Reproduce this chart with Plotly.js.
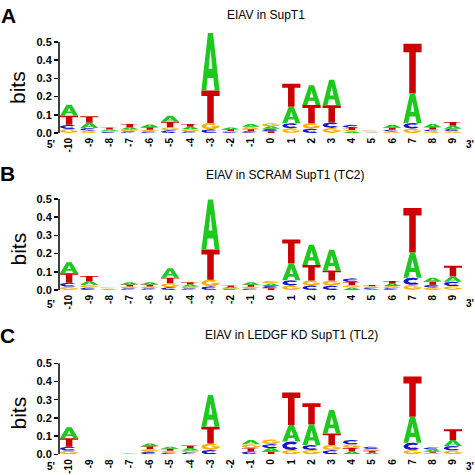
<!DOCTYPE html>
<html>
<head>
<meta charset="utf-8">
<script src="https://cdn.plot.ly/plotly-3.0.1.min.js"></script>
<style>html,body{margin:0;padding:0;background:#fff;}#chart{width:475px;height:475px;}</style>
</head>
<body>
<div id="chart"></div>
<script>
// ---------- DATA ----------
const positions = [-10,-9,-8,-7,-6,-5,-4,-3,-2,-1,0,1,2,3,4,5,6,7,8,9];
const tickLabels = positions.map(String);
const yTickVals = [0,0.1,0.2,0.3,0.4,0.5];
const yTickText = ['0.0','0.1','0.2','0.3','0.4','0.5'];
const panelTitles = ['EIAV in SupT1','EIAV in SCRAM SupT1 (TC2)','EIAV in LEDGF KD SupT1 (TL2)'];
const panelLetters = ['A','B','C'];

// Panel A: EIAV in SupT1 (bits per letter)
const supA = [0.060,0.028,0.008,0.014,0.016,0.033,0.014,0.317,0.010,0.016,0.014,0.090,0.108,0.139,0.008,0.002,0.016,0.162,0.018,0.017];
const supC = [0.023,0.015,0.006,0.009,0.008,0.015,0.009,0.020,0.005,0.010,0.013,0.028,0.024,0.030,0.017,0.003,0.010,0.030,0.010,0.012];
const supG = [0.022,0.013,0.006,0.010,0.010,0.017,0.011,0.035,0.006,0.013,0.017,0.026,0.030,0.028,0.009,0.003,0.008,0.025,0.009,0.011];
const supT = [0.050,0.036,0.010,0.017,0.013,0.030,0.016,0.178,0.009,0.011,0.010,0.126,0.100,0.095,0.011,0.004,0.011,0.274,0.013,0.020];

// Panel B: EIAV in SCRAM SupT1 (TC2)
const scrA = [0.061,0.022,0.003,0.012,0.012,0.052,0.011,0.275,0.007,0.014,0.013,0.092,0.111,0.114,0.013,0.006,0.013,0.138,0.020,0.028];
const scrC = [0.022,0.013,0.002,0.009,0.009,0.015,0.009,0.020,0.004,0.008,0.012,0.028,0.025,0.024,0.020,0.007,0.010,0.040,0.015,0.025];
const scrG = [0.018,0.015,0.003,0.010,0.010,0.022,0.010,0.037,0.006,0.010,0.015,0.025,0.027,0.028,0.015,0.007,0.012,0.028,0.014,0.021];
const scrT = [0.052,0.027,0.004,0.011,0.011,0.031,0.012,0.166,0.008,0.011,0.010,0.133,0.086,0.055,0.016,0.008,0.014,0.245,0.018,0.059];

// Panel C: EIAV in LEDGF KD SupT1 (TL2)
const kdA = [0.060,0.001,0.001,0.003,0.016,0.012,0.013,0.174,0.0005,0.024,0.018,0.091,0.113,0.129,0.016,0.009,0.0005,0.143,0.010,0.033];
const kdC = [0.022,0.001,0.001,0.002,0.014,0.009,0.010,0.024,0.0005,0.016,0.022,0.046,0.027,0.023,0.025,0.012,0.0005,0.040,0.012,0.025];
const kdG = [0.020,0.001,0.001,0.002,0.015,0.010,0.011,0.036,0.0005,0.022,0.026,0.024,0.024,0.028,0.020,0.011,0.0005,0.024,0.008,0.021];
const kdT = [0.046,0.002,0.002,0.003,0.015,0.011,0.014,0.092,0.0005,0.017,0.016,0.178,0.116,0.064,0.018,0.010,0.0005,0.220,0.008,0.058];

const panels = [
  {A: supA, C: supC, G: supG, T: supT},
  {A: scrA, C: scrC, G: scrG, T: scrT},
  {A: kdA, C: kdC, G: kdG, T: kdT}
];

// ---------- STYLE ----------
const colors = {A: '#1ec81e', C: '#1414cc', G: '#ffb000', T: '#cc0000'};
const letterWidth = 0.9;

// ---------- GLYPHS (unit box) ----------
function arc(rx, ry, a0, a1, n) {
  const pts = [];
  for (let i = 0; i <= n; i++) {
    const a = (a0 + (a1 - a0) * i / n) * Math.PI / 180;
    pts.push([0.5 + rx * Math.cos(a), 0.5 + ry * Math.sin(a)]);
  }
  return pts;
}
const glyphs = {
  T: [[0,1],[1,1],[1,0.83],[0.68,0.83],[0.68,0],[0.32,0],[0.32,0.83],[0,0.83]],
  A: [[0,0],[0.27,0],[0.34,0.22],[0.66,0.22],[0.73,0],[1,0],[0.64,1],[0.36,1]],
  C: arc(0.5,0.5,45,315,30).concat(arc(0.25,0.22,315,45,24)),
  G: arc(0.5,0.5,45,350,30).concat([[1,0.413],[1,0.55],[0.55,0.55],[0.55,0.40]]).concat(arc(0.25,0.22,333,45,24))
};
const aHole = [[0.40,0.38],[0.60,0.38],[0.5,0.72]];

// ---------- TRACES ----------
const traces = [];
panels.forEach((p, k) => {
  const xa = k === 0 ? 'x' : 'x' + (k + 1);
  const ya = k === 0 ? 'y' : 'y' + (k + 1);
  const acc = {A: {x: [], y: []}, C: {x: [], y: []}, G: {x: [], y: []}, T: {x: [], y: []}};
  const hole = {x: [], y: []};
  positions.forEach((pos, i) => {
    const stack = ['A','C','G','T'].map(l => ({l: l, h: p[l][i]})).sort((a, b) => a.h - b.h);
    let base = 0;
    stack.forEach(s => {
      glyphs[s.l].forEach(pt => {
        acc[s.l].x.push(pos + (pt[0] - 0.5) * letterWidth);
        acc[s.l].y.push(base + pt[1] * s.h);
      });
      acc[s.l].x.push(null); acc[s.l].y.push(null);
      if (s.l === 'A') {
        aHole.forEach(pt => {
          hole.x.push(pos + (pt[0] - 0.5) * letterWidth);
          hole.y.push(base + pt[1] * s.h);
        });
        hole.x.push(null); hole.y.push(null);
      }
      base += s.h;
    });
  });
  ['G','C','T','A'].forEach(l => {
    traces.push({type: 'scatter', mode: 'lines', x: acc[l].x, y: acc[l].y, xaxis: xa, yaxis: ya,
      fill: 'toself', fillcolor: colors[l], line: {width: 0, color: colors[l]},
      hoverinfo: 'skip', showlegend: false});
  });
  traces.push({type: 'scatter', mode: 'lines', x: hole.x, y: hole.y, xaxis: xa, yaxis: ya,
    fill: 'toself', fillcolor: '#ffffff', line: {width: 0, color: '#ffffff'},
    hoverinfo: 'skip', showlegend: false});
});

// ---------- LAYOUT ----------
const ML = 59, MR = 12, FW = 475, FH = 475;
const xp = px => (px - ML) / (FW - ML - MR);
const yp = py => (FH - py) / FH;
const domains = [[0.72, 0.93453], [0.38947, 0.60400], [0.04358, 0.25811]];
const titlePos = [[266, 15], [284.5, 175], [291.5, 335]];
const letterPos = [[8, 16], [7.5, 173.5], [7, 335]];
const bitsPos = [[17.5, 87.5], [17.5, 249], [17.5, 413]];
const primePos = [[145, 145], [304, 303], [466.5, 466]];

const fontFam = '"Liberation Sans", Arial, sans-serif';
const layout = {
  width: FW, height: FH,
  margin: {l: ML, r: MR, t: 0, b: 0, pad: 0},
  paper_bgcolor: '#ffffff', plot_bgcolor: '#ffffff',
  showlegend: false,
  shapes: [], annotations: []
};
domains.forEach((d, k) => {
  const sx = k === 0 ? '' : String(k + 1);
  layout['xaxis' + sx] = {
    domain: [0, 1], range: [-10.5, 9.5], anchor: 'y' + sx,
    tickmode: 'array', tickvals: positions, ticktext: tickLabels, tickangle: -90,
    showline: false, zeroline: false, showgrid: false, ticks: '',
    ticklabelstandoff: 2,
    tickfont: {family: fontFam, size: 10, weight: 'bold', color: '#000'}
  };
  layout['yaxis' + sx] = {
    domain: d, range: [0, 0.56], anchor: 'x' + sx,
    tickmode: 'array', tickvals: yTickVals, ticktext: yTickText,
    ticks: 'outside', ticklen: 4, tickwidth: 1.5, tickcolor: '#000',
    showline: false, zeroline: false, showgrid: false,
    tickfont: {family: fontFam, size: 11, weight: 'bold', color: '#000'}
  };
  layout.shapes.push({type: 'line', xref: 'paper', yref: 'y' + sx,
    x0: 0, x1: 0, y0: yTickVals[0], y1: yTickVals[yTickVals.length - 1],
    line: {color: '#000', width: 1.5}});
  layout.annotations.push(
    {text: panelTitles[k], xref: 'paper', yref: 'paper', x: xp(titlePos[k][0]), y: yp(titlePos[k][1]),
      xanchor: 'center', yanchor: 'middle', showarrow: false,
      font: {family: fontFam, size: 12, color: '#000'}},
    {text: panelLetters[k], xref: 'paper', yref: 'paper', x: xp(letterPos[k][0]), y: yp(letterPos[k][1]),
      xanchor: 'center', yanchor: 'middle', showarrow: false,
      font: {family: fontFam, size: 21, weight: 'bold', color: '#000'}},
    {text: 'bits', xref: 'paper', yref: 'paper', x: xp(bitsPos[k][0]), y: yp(bitsPos[k][1]),
      xanchor: 'center', yanchor: 'middle', showarrow: false, textangle: -90,
      font: {family: fontFam, size: 21, color: '#000'}},
    {text: "5'", xref: 'paper', yref: 'paper', x: xp(50.5), y: yp(primePos[k][0]),
      xanchor: 'center', yanchor: 'middle', showarrow: false,
      font: {family: fontFam, size: 10, weight: 'bold', color: '#000'}},
    {text: "3'", xref: 'paper', yref: 'paper', x: xp(470), y: yp(primePos[k][1]),
      xanchor: 'center', yanchor: 'middle', showarrow: false,
      font: {family: fontFam, size: 10, weight: 'bold', color: '#000'}}
  );
});

Plotly.newPlot('chart', traces, layout, {staticPlot: true, displayModeBar: false});
</script>
</body>
</html>
